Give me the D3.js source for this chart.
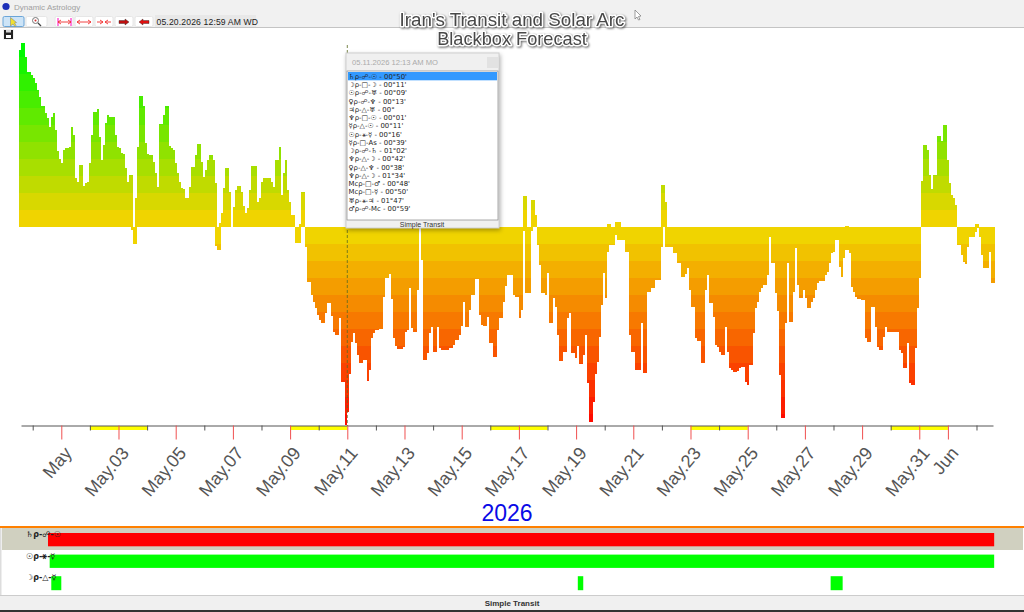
<!DOCTYPE html>
<html>
<head>
<meta charset="utf-8">
<script src="https://cdn.jsdelivr.net/npm/d3@7"></script>
<style>
  html, body { margin: 0; padding: 0; background: #fff; overflow: hidden; }
  svg { display: block; font-family: "Liberation Sans", Arial, sans-serif; }
</style>
</head>
<body>
<svg width="1024" height="612"></svg>
<script>
// score above the zero line, one value per time step
var positive = [
  177,184,184,170,155,155,152,149,144,137,
  130,121,121,114,109,100,110,114,97,76,
  68,64,77,79,79,80,100,92,49,45,
  62,62,41,44,45,64,92,115,115,118,
  90,67,82,104,112,110,110,110,92,80,
  79,74,73,59,45,52,52,0,29,80,
  131,131,121,84,73,72,72,65,54,40,
  103,103,112,121,121,81,79,77,64,54,
  45,39,38,29,29,40,60,60,72,83,
  83,65,50,57,67,72,72,67,44,0,
  4,14,39,59,59,35,0,20,37,41,
  41,35,21,14,19,37,61,61,61,25,
  29,45,49,49,49,49,45,40,67,67,
  80,32,54,67,37,25,12,12,0,0,
  3,35,35,0,0,0,0,0,0,0,
  0,0,0,0,0,0,0,0,0,0, 0,0,0,0,0,0,0,0,0,0,
  0,0,0,0,0,0,0,0,0,0, 0,0,0,0,0,0,0,0,0,0,
  0,0,0,0,0,0,0,0,0,0, 0,0,0,0,0,0,0,0,0,0,
  0,0,0,0,0,0,0,0,0,0, 0,0,0,0,0,0,0,0,0,0,
  0,0,0,0,0,0,0,0,0,0, 0,0,0,0,0,0,0,0,0,0,
  0,0,31,31,0,0,27,27,12,0,
  0,0,0,0,0,0,0,0,0,0, 0,0,0,0,0,0,0,0,0,0, 0,0,0,0,0,0,0,0,0,0,
  0,0,0,0,3,3,0,0,5,5,
  5,0,0,0,0,0,0,0,0,0,
  0,0,0,0,0,0,0,0,0,0,
  0,42,42,25,0,0,0,0,0,0,
  0,0,0,0,0,0,0,0,0,0, 0,0,0,0,0,0,0,0,0,0,
  0,0,0,0,0,0,0,0,0,0, 0,0,0,0,0,0,0,0,0,0,
  0,0,0,0,0,0,0,0,0,0, 0,0,0,0,0,0,0,0,0,0,
  0,0,0,0,0,0,0,0,0,0, 0,0,0,0,0,0,0,0,0,0,
  0,0,0,1,1,0,0,0,0,0,
  0,0,0,0,0,0,0,0,0,0, 0,0,0,0,0,0,0,0,0,0, 0,0,0,0,0,0,0,0,0,0,
  0,46,82,82,77,52,38,52,52,91,
  91,86,102,102,67,44,32,29,22,0,
  0,0,0,0,0,0,0,0,3,3,
  0,0,0,0,0,0,0,0
]
// score below the zero line, same time steps
var negative = [
  0,0,0,0,0,0,0,0,0,0, 0,0,0,0,0,0,0,0,0,0,
  0,0,0,0,0,0,0,0,0,0, 0,0,0,0,0,0,0,0,0,0,
  0,0,0,0,0,0,0,0,0,0,
  0,0,0,0,0,0,3,17,17,0,
  0,0,0,0,0,0,0,0,0,0, 0,0,0,0,0,0,0,0,0,0, 0,0,0,0,0,0,0,0,0,0,
  0,0,0,0,0,0,0,0,19,23,
  23,0,0,0,0,0,0,0,0,0,
  0,0,0,0,0,0,0,0,0,0, 0,0,0,0,0,0,0,0,0,0,
  0,0,0,0,0,0,0,0,16,16,
  16,0,0,20,55,55,68,75,81,88,
  93,96,96,86,76,76,89,105,108,108,
  91,155,155,198,185,147,115,106,116,128,
  136,136,133,133,154,143,111,106,103,103,
  102,102,70,51,51,47,72,111,119,122,
  122,122,120,105,103,61,101,105,105,63,
  0,33,133,133,126,106,100,125,125,100,
  121,123,123,123,123,121,121,118,113,113,
  108,99,75,100,100,83,68,68,52,52,
  88,98,99,99,90,116,116,130,130,103,
  91,91,75,59,48,48,48,68,70,70,
  91,83,4,66,66,66,4,0,0,18,
  38,66,66,68,46,96,96,71,80,108,
  134,134,125,125,91,86,126,126,131,119,
  137,137,128,108,156,195,195,175,147,135,
  110,78,46,71,25,18,18,18,8,13,
  13,13,13,25,25,108,125,125,143,143,
  143,96,146,146,65,65,61,61,53,53,
  53,20,0,20,20,20,20,26,26,36,
  36,50,50,47,41,63,80,80,111,114,
  114,136,136,63,48,76,76,90,118,120,
  125,128,128,100,125,141,143,145,145,144,
  141,140,140,155,158,138,138,106,81,75,
  65,61,58,58,48,10,36,36,66,84,
  148,191,191,96,36,95,95,65,21,58,
  71,71,63,71,81,81,75,71,63,56,
  54,54,54,48,45,36,26,25,13,13,
  40,50,31,23,23,26,60,65,70,72,
  72,73,73,111,115,115,80,80,100,120,
  123,123,110,100,105,105,105,105,105,105,
  123,126,141,141,116,156,158,158,121,81,
  51,0,0,0,0,0,0,0,0,0,
  0,0,0,0,0,0,0,0,0,18,
  18,28,35,37,20,10,10,10,5,1,
  10,28,41,41,41,25,56,56
]
var weekendStarts = ["2026-05-02","2026-05-09","2026-05-16","2026-05-23","2026-05-30"]
var redDays = ["2026-05-01","2026-05-03","2026-05-05","2026-05-07","2026-05-09","2026-05-11","2026-05-13","2026-05-15","2026-05-17","2026-05-19","2026-05-21","2026-05-23","2026-05-25","2026-05-27","2026-05-29","2026-05-31","2026-06-01"]
var tickLabels = ["May","May.03","May.05","May.07","May.09","May.11","May.13","May.15","May.17","May.19","May.21","May.23","May.25","May.27","May.29","May.31","Jun"]
var blackDays = ["2026-04-30","2026-05-02","2026-05-04","2026-05-06","2026-05-08","2026-05-10","2026-05-12","2026-05-14","2026-05-16","2026-05-18","2026-05-20","2026-05-22","2026-05-24","2026-05-26","2026-05-28","2026-05-30","2026-06-02"]

var aspectList = ["♄ρ-☍-☉ - 00°50'","☽ρ-□-☽ - 00°11'","☉ρ-☍-♅ - 00°09'","♀ρ-☍-♆ - 00°13'","♃ρ-△-♅ - 00°","♆ρ-□-☉ - 00°01'","☿ρ-△-☉ - 00°11'","☉ρ-⚹-☿ - 00°16'","☿ρ-□-As - 00°39'","☽ρ-☍-♄ - 01°02'","♆ρ-△-☽ - 00°42'","♀ρ-△-♆ - 00°38'","♆ρ-△-☽ - 01°34'","Mcρ-□-♂ - 00°48'","Mcρ-□-☿ - 00°50'","♅ρ-⚹-♃ - 01°47'","♂ρ-☍-Mc - 00°59'"]
var rowLabels = ["♄ρ-☍-☉","☉ρ-⚹-☿","☽ρ-△-☿"]
var rowBars = [
  {row:0, start:"2026-04-30T12:50Z", end:"2026-06-02T14:50Z", color:"#ff0000"},
  {row:1, start:"2026-04-30T14:15Z", end:"2026-06-02T14:50Z", color:"#00ff00"},
  {row:2, start:"2026-04-30T15:36Z", end:"2026-05-01T00:00Z", color:"#00ff00"},
  {row:2, start:"2026-05-19T01:26Z", end:"2026-05-19T06:00Z", color:"#00ff00"},
  {row:2, start:"2026-05-27T21:36Z", end:"2026-05-28T07:41Z", color:"#00ff00"}
]

var svg = d3.select("svg")
var bandSize = 17

var xBar = d3.scaleBand().domain(d3.range(positive.length)).range([19.33, 995.33])
var y = d3.scaleLinear().domain([-200, 200]).range([427, 27])
var xTime = d3.scaleUtc()
  .domain([new Date("2026-04-29T14:11Z"), new Date("2026-06-02T13:51Z")])
  .range([21, 993])
var upColor = d3.scaleLinear().domain([0, 170]).range(["#f0d400", "#00f800"])
var downColor = d3.scaleLinear().domain([0, 190]).range(["#f0d400", "#ff0800"])

// window chrome
svg.append("rect").attr("width", 1024).attr("height", 27).attr("fill", "#f1f1f1")
svg.append("rect").attr("y", 27).attr("width", 1024).attr("height", 1).attr("fill", "#c4c4c4")
svg.append("circle").attr("cx", 6).attr("cy", 6.5).attr("r", 3.6).attr("fill", "#1c2fb8")
svg.append("text").attr("x", 14).attr("y", 10).attr("font-size", 8).attr("fill", "#a0a0a0").text("Dynamic Astrology")

// stacked colour bands of each step
function bands(values, color, sign) {
  var segs = []
  values.forEach(function(v, i) {
    d3.range(0, v, bandSize).forEach(function(k) {
      segs.push({i: i, from: k, to: Math.min(k + bandSize, v)})
    })
  })
  svg.append("g").attr("shape-rendering", "crispEdges")
    .selectAll("rect").data(segs).join("rect")
    .attr("x", function(d) { return xBar(d.i) })
    .attr("width", xBar.bandwidth())
    .attr("y", function(d) { return sign > 0 ? y(d.to) : y(-d.from) })
    .attr("height", function(d) { return Math.abs(y(d.to) - y(d.from)) })
    .attr("fill", function(d) { return color(d.from) })
}
bands(positive, upColor, 1)
bands(negative, downColor, -1)

// weekends on the axis
svg.append("g").selectAll("rect").data(weekendStarts).join("rect")
  .attr("x", function(d) { return xTime(new Date(d + "T00:00Z")) })
  .attr("width", function(d) { return xTime(d3.utcDay.offset(new Date(d + "T00:00Z"), 2)) - xTime(new Date(d + "T00:00Z")) })
  .attr("y", 426).attr("height", 4).attr("fill", "#ffff00")

// short black ticks
var axisBlack = svg.append("g").attr("transform", "translate(0,425.5)")
  .call(d3.axisBottom(xTime)
    .tickValues(blackDays.map(function(d) { return new Date(d + "T00:00Z") }))
    .tickSize(5).tickSizeOuter(0).tickFormat(""))
axisBlack.select(".domain").attr("stroke", "#555")
axisBlack.selectAll(".tick line").attr("stroke", "#555")

// long red ticks carrying the labels
var axisRed = svg.append("g").attr("transform", "translate(0,425.5)")
  .call(d3.axisBottom(xTime)
    .tickValues(redDays.map(function(d) { return new Date(d + "T00:00Z") }))
    .tickSize(14).tickSizeOuter(0)
    .tickFormat(function(d, i) { return tickLabels[i] }))
axisRed.select(".domain").remove()
axisRed.selectAll(".tick line").attr("stroke", "#f05050")
axisRed.selectAll(".tick text")
  .attr("font-family", "'Liberation Sans', Arial, sans-serif")
  .attr("font-size", 18).attr("fill", "#555")
  .attr("text-anchor", "end")
  .attr("y", 0).attr("dy", 0)
  .attr("transform", "translate(11,28) rotate(-50)")

// cursor line
svg.append("line").attr("x1", 347.3).attr("x2", 347.3).attr("y1", 45).attr("y2", 426)
  .attr("stroke", "#5a6a20").attr("stroke-width", 0.8).attr("stroke-dasharray", "3,2")

// year
svg.append("text").attr("x", 507).attr("y", 521).attr("text-anchor", "middle")
  .attr("font-size", 23).attr("fill", "#0a0ae6").text("2026")

// tooltip panel
var pop = svg.append("g")
pop.append("rect").attr("x", 346).attr("y", 53).attr("width", 153).attr("height", 175)
  .attr("fill", "#f0f0f0").attr("stroke", "#d0d0d0")
  .style("filter", "drop-shadow(1px 2px 2px rgba(0,0,0,0.3))")
pop.append("text").attr("x", 352).attr("y", 65).attr("font-size", 7.6).attr("fill", "#aaa").text("05.11.2026  12:13 AM MO")
pop.append("rect").attr("x", 487).attr("y", 57).attr("width", 11).attr("height", 11).attr("fill", "#e2e2e2")
pop.append("rect").attr("x", 347).attr("y", 71).attr("width", 151).attr("height", 149).attr("fill", "#fff").attr("stroke", "#888").attr("stroke-width", 0.7)
pop.append("rect").attr("x", 348).attr("y", 72).attr("width", 149).attr("height", 8.3).attr("fill", "#3399ff")
pop.selectAll("text.row").data(aspectList).join("text").attr("class", "row")
  .attr("x", 348.5).attr("y", function(d, i) { return 78.7 + i * 8.27 })
  .attr("font-size", 6.9).attr("fill", "#222")
  .style("font-family", "'DejaVu Sans', sans-serif")
  .text(function(d) { return d })
pop.append("text").attr("x", 422).attr("y", 226.5).attr("text-anchor", "middle").attr("font-size", 7).attr("fill", "#333").text("Simple Transit")

// toolbar
var toolX = [3, 26, 55, 75, 95, 115, 135]
var toolW = [21, 21, 18, 18, 18, 18, 18]
svg.append("g").selectAll("rect").data(toolX).join("rect")
  .attr("x", function(d) { return d }).attr("y", 16.5)
  .attr("width", function(d, i) { return toolW[i] }).attr("height", 10)
  .attr("rx", 1.5).attr("fill", function(d, i) { return i == 0 ? "#cde4f7" : "#fff" })
  .attr("stroke", function(d, i) { return i == 0 ? "#6aa5d8" : "#e6e6e6" })
svg.append("path").attr("d", "M10.5,17.5 L10.5,26 L13,24 L15,26.5 L16,25.5 L14.5,23 L16.5,22.5 Z").attr("fill", "#f0e030").attr("stroke", "#777").attr("stroke-width", 0.5)
svg.append("circle").attr("cx", 35.5).attr("cy", 20.5).attr("r", 3).attr("fill", "#fff").attr("stroke", "#777")
svg.append("circle").attr("cx", 35.5).attr("cy", 20.5).attr("r", 1).attr("fill", "#d03030")
svg.append("line").attr("x1", 38).attr("y1", 23).attr("x2", 41).attr("y2", 26).attr("stroke", "#444").attr("stroke-width", 1.2)
svg.append("path").attr("d", "M58,18 V26 M71,18 V26").attr("stroke", "#ff00c0").attr("stroke-width", 1)
var redMarks = ["M58,22 H71 M58,22 l3,-2 M58,22 l3,2 M71,22 l-3,-2 M71,22 l-3,2",
  "M77,22 H91 M77,22 l3,-2 M77,22 l3,2 M91,22 l-3,-2 M91,22 l-3,2",
  "M97,22 H103 M105,22 H111 M103,22 l-3,-2 M103,22 l-3,2 M105,22 l3,-2 M105,22 l3,2"]
svg.append("g").selectAll("path").data(redMarks).join("path").attr("d", function(d) { return d }).attr("stroke", "#f03030").attr("fill", "none").attr("stroke-width", 0.9)
svg.append("path").attr("d", "M119,20.5 H125 V19 L129,22 L125,25 V23.5 H119 Z").attr("fill", "#c01010").attr("stroke", "#222").attr("stroke-width", 0.4)
svg.append("path").attr("d", "M149,20.5 H143 V19 L139,22 L143,25 V23.5 H149 Z").attr("fill", "#e01010").attr("stroke", "#222").attr("stroke-width", 0.4)
svg.append("rect").attr("x", 155).attr("y", 15).attr("width", 101).attr("height", 12).attr("fill", "#e8e8e8")
svg.append("text").attr("x", 156.5).attr("y", 24.5).attr("font-size", 8.6).attr("fill", "#222").attr("letter-spacing", 0.15).text("05.20.2026  12:59 AM WD")

// save icon
svg.append("rect").attr("x", 3).attr("y", 29).attr("width", 11).attr("height", 11).attr("fill", "#f2f2f2")
svg.append("rect").attr("x", 4).attr("y", 30).attr("width", 9).attr("height", 9).attr("fill", "#222")
svg.append("rect").attr("x", 6).attr("y", 30).attr("width", 5).attr("height", 2.5).attr("fill", "#d8d8d8")
svg.append("rect").attr("x", 6).attr("y", 35).attr("width", 5).attr("height", 3).attr("fill", "#fff")

// title
var titleLines = ["Iran's Transit and Solar Arc", "Blackbox Forecast"]
var titleSizes = [18.8, 18.2]
svg.selectAll("text.title").data(titleLines).join("text").attr("class", "title")
  .attr("x", 512).attr("y", function(d, i) { return 25.5 + i * 19.5 })
  .attr("text-anchor", "middle").attr("font-size", function(d, i) { return titleSizes[i] }).attr("fill", "#484848")
  .attr("stroke", "#fff").attr("stroke-width", 3).attr("stroke-linejoin", "round")
  .style("paint-order", "stroke")
  .style("filter", "drop-shadow(1px 1px 1px rgba(0,0,0,0.6))")
  .text(function(d) { return d })

// mouse pointer
svg.append("path").attr("d", "M635,10 L635,19 L637,17 L638.5,20 L640,19.5 L638.5,16.5 L641,16 Z")
  .attr("fill", "#fff").attr("stroke", "#777").attr("stroke-width", 0.7)

// timeline panel
svg.append("rect").attr("x", 0).attr("y", 526).attr("width", 1024).attr("height", 2).attr("fill", "#ff8000")
svg.append("rect").attr("x", 2).attr("y", 528).attr("width", 1021).attr("height", 22).attr("fill", "#d0d0c0")
svg.append("rect").attr("x", 0).attr("y", 528).attr("width", 1.5).attr("height", 67).attr("fill", "#ddd")
svg.append("rect").attr("x", 0).attr("y", 595).attr("width", 1024).attr("height", 1).attr("fill", "#ccc")
svg.append("rect").attr("x", 0).attr("y", 596).attr("width", 1024).attr("height", 14).attr("fill", "#f0f0f0")
svg.append("rect").attr("x", 0).attr("y", 610).attr("width", 1024).attr("height", 2).attr("fill", "#333")
svg.append("text").attr("x", 512).attr("y", 606).attr("text-anchor", "middle").attr("font-size", 8).attr("font-weight", "bold").attr("fill", "#333").text("Simple Transit")

var rowY = d3.scaleBand().domain([0, 1, 2]).range([529, 595]).paddingInner(0)
svg.append("g").selectAll("rect").data(rowBars).join("rect")
  .attr("x", function(d) { return xTime(new Date(d.start)) })
  .attr("width", function(d) { return xTime(new Date(d.end)) - xTime(new Date(d.start)) })
  .attr("y", function(d) { return rowY(d.row) + 4 - d.row * 0.4 })
  .attr("height", function(d) { return d.row == 2 ? 14 : 13.3 })
  .attr("fill", function(d) { return d.color })
svg.selectAll("text.rowlabel").data(rowLabels).join("text").attr("class", "rowlabel")
  .attr("x", 26).attr("y", function(d, i) { return 537 + i * 21.5 })
  .attr("font-size", 8).attr("font-weight", "bold").attr("fill", "#222")
  .style("font-family", "'DejaVu Sans', sans-serif")
  .text(function(d) { return d })
</script>
</body>
</html>
